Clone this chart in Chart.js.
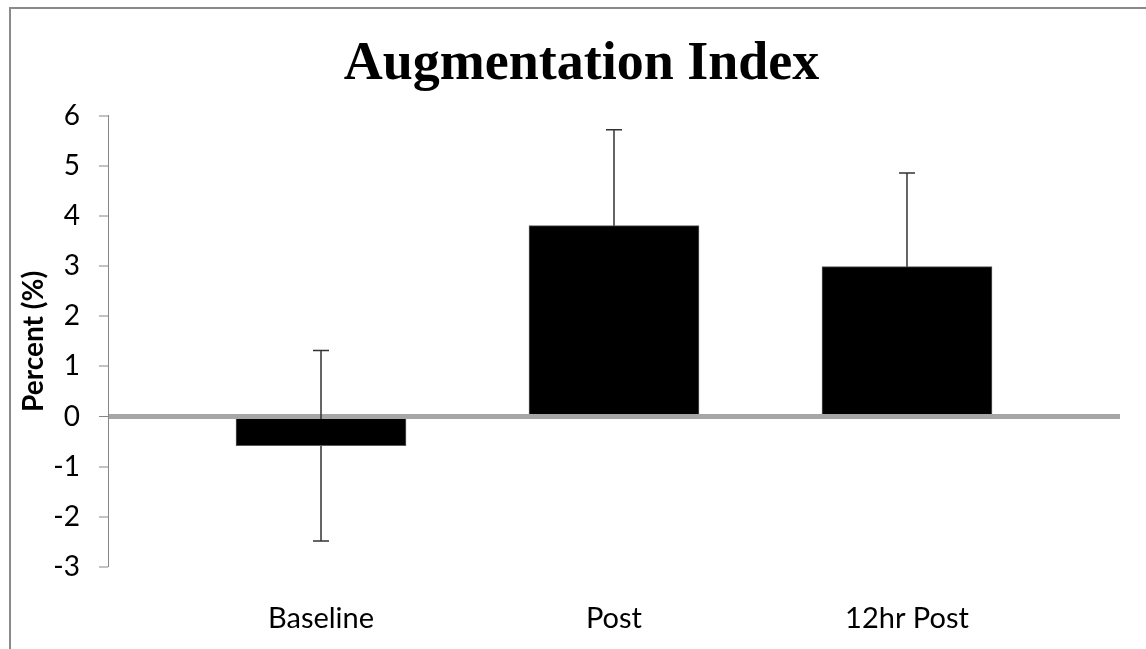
<!DOCTYPE html>
<html>
<head>
<meta charset="utf-8">
<script src="https://cdn.jsdelivr.net/npm/chart.js@4.4.1/dist/chart.umd.min.js"></script>
<style>
  body { margin: 0; background: #fff; }
  #wrap { position: relative; width: 1146px; height: 649px; }
</style>
</head>
<body>
<div id="wrap"><canvas id="aixChart"></canvas></div>
<script>
const categories = ["Baseline", "Post", "12hr Post"];
const values = [-0.58, 3.81, 2.99];
const errors = [1.9, 1.91, 1.87];
const yTicks = [-3, -2, -1, 0, 1, 2, 3, 4, 5, 6];

// grey frame of the original Excel chart object (only top/left edges are in view)
const frame = {
  id: "frame",
  beforeDraw(chart) {
    const ctx = chart.ctx;
    ctx.save();
    ctx.fillStyle = "#fff";
    ctx.fillRect(0, 0, chart.width, chart.height);
    ctx.strokeStyle = "#8a8a8a";
    ctx.lineWidth = 2;
    ctx.strokeRect(10, 8, chart.width + 40, chart.height + 40);
    ctx.restore();
  },
};

// symmetric error bars, drawn under the bars so the hidden half disappears
const errorBars = {
  id: "errorBars",
  beforeDatasetsDraw(chart) {
    const ctx = chart.ctx;
    const y = chart.scales.y;
    const meta = chart.getDatasetMeta(0);
    ctx.save();
    ctx.strokeStyle = "#333";
    ctx.lineWidth = 1.5;
    meta.data.forEach((bar, i) => {
      const top = y.getPixelForValue(values[i] + errors[i]);
      const bot = y.getPixelForValue(values[i] - errors[i]);
      ctx.beginPath();
      ctx.moveTo(bar.x, top);
      ctx.lineTo(bar.x, bot);
      ctx.moveTo(bar.x - 8, top);
      ctx.lineTo(bar.x + 8, top);
      ctx.moveTo(bar.x - 8, bot);
      ctx.lineTo(bar.x + 8, bot);
      ctx.stroke();
    });
    ctx.restore();
  },
};

const ctx = document.getElementById("aixChart").getContext("2d");
new Chart(ctx, {
  type: "bar",
  data: {
    datasets: [
      {
        label: "Augmentation Index",
        data: categories.map((c, i) => ({ x: i, y: values[i] })),
        backgroundColor: "#000",
        borderColor: "#595959",
        borderWidth: 1,
        barThickness: 170,
      },
    ],
  },
  options: {
    responsive: true,
    maintainAspectRatio: false,
    animation: false,
    layout: { padding: { left: 43, right: 26, top: 0, bottom: 0 } },
    plugins: {
      legend: { display: false },
      tooltip: { enabled: false },
      title: {
        display: true,
        text: "Augmentation Index",
        color: "#000",
        font: { family: "'Liberation Serif', 'Times New Roman', serif", size: 54, weight: "bold", lineHeight: 1.2 },
        padding: { top: 33, bottom: 18 },
      },
    },
    scales: {
      x: {
        type: "linear",
        offset: false,
        min: -0.727,
        max: 2.727,
        afterBuildTicks: (scale) => {
          scale.ticks = categories.map((c, i) => ({ value: i }));
        },
        afterFit: (scale) => {
          scale.height = 82;
        },
        grid: { display: false, offset: false },
        border: { display: false },
        ticks: {
          color: "#000",
          font: { family: "Lato, 'Open Sans', sans-serif", size: 29 },
          padding: 26,
          maxRotation: 0,
          autoSkip: false,
          callback: (v) => categories[v],
        },
      },
      y: {
        min: -3,
        max: 6,
        z: 1,
        afterBuildTicks: (scale) => {
          scale.ticks = yTicks.map((v) => ({ value: v }));
        },
        afterFit: (scale) => {
          scale.width = 65;
        },
        border: { display: true, color: "#868686", width: 1 },
        grid: {
          color: (c) => (c.tick && c.tick.value === 0 ? "#a6a6a6" : "rgba(0,0,0,0)"),
          lineWidth: (c) => (c.tick && c.tick.value === 0 ? 5 : 0),
          tickColor: "#868686",
          tickWidth: 1,
          tickLength: 9,
        },
        ticks: {
          color: "#000",
          font: { family: "Lato, 'Open Sans', sans-serif", size: 28 },
          padding: 19,
        },
        title: {
          display: true,
          text: "Percent (%)",
          color: "#000",
          font: { family: "Lato, 'Open Sans', sans-serif", size: 28, weight: "bold", lineHeight: 1.2 },
          padding: { top: -25.8, bottom: 0 },
        },
      },
    },
  },
  plugins: [frame, errorBars],
});
</script>
</body>
</html>
